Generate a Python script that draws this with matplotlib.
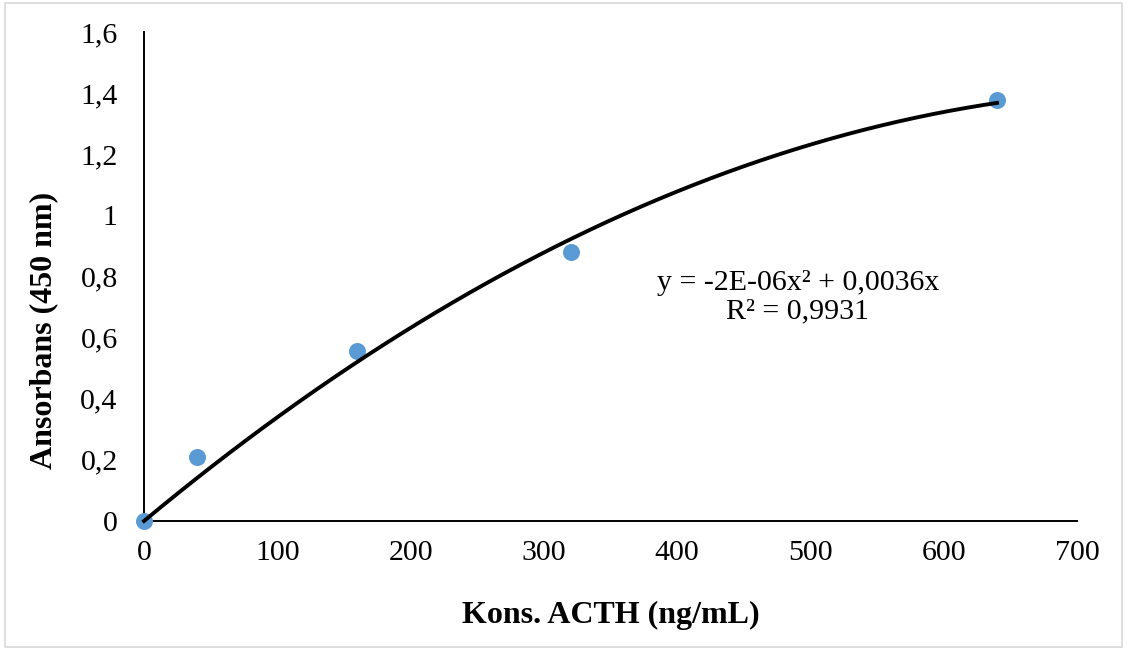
import numpy as np
import matplotlib.pyplot as plt
from matplotlib.patches import Rectangle

# data
kons = [0, 40, 160, 320, 640]
absorbans = [0.0, 0.21, 0.555, 0.88, 1.376]
x_ticks = [0, 100, 200, 300, 400, 500, 600, 700]
y_ticks = [0, 0.2, 0.4, 0.6, 0.8, 1.0, 1.2, 1.4, 1.6]
y_labels = ['0', '0,2', '0,4', '0,6', '0,8', '1', '1,2', '1,4', '1,6']
eq_text = 'y = -2E-06x² + 0,0036x\nR² = 0,9931'

plt.rcParams['font.family'] = ['Liberation Serif', 'DejaVu Serif']

fig = plt.figure(figsize=(11.27, 6.5), dpi=100)
ax = fig.add_axes([0.1278, 0.1985, 0.8278, 0.7523])

# polynomial trendline order 2, intercept 0 (like excel)
x = np.array(kons, dtype=float)
y = np.array(absorbans)
A = np.vstack([x**2, x]).T
coef = np.linalg.lstsq(A, y, rcond=None)[0]
xs = np.linspace(0, 640, 200)
ax.plot(xs, coef[0]*xs**2 + coef[1]*xs, color='black', lw=2.8, zorder=4, clip_on=False)

ax.scatter(kons, absorbans, s=150, color='#5B9BD5', zorder=3, clip_on=False, linewidths=0)

ax.set_xlim(0, 700)
ax.set_ylim(0, 1.6)
ax.set_xticks(x_ticks)
ax.set_yticks(y_ticks)
ax.set_yticklabels(y_labels)
ax.tick_params(length=0, labelsize=21.5)
ax.tick_params(axis='x', pad=14)
ax.tick_params(axis='y', pad=19)
for s in ['top', 'right']:
    ax.spines[s].set_visible(False)
for s in ['left', 'bottom']:
    ax.spines[s].set_linewidth(1.4)

ax.set_xlabel('Kons. ACTH (ng/mL)', fontsize=23, fontweight='bold', labelpad=25)
fig.text(44/1127, 1 - 330/650, 'Ansorbans (450 nm)', fontsize=23, fontweight='bold',
         rotation=90, ha='center', va='center')

ax.text(490.5, 0.733, eq_text, fontsize=21.5, ha='center', va='center', linespacing=1.1)

fig.patches.append(Rectangle((0.004, 0.004), 0.992, 0.992, transform=fig.transFigure,
                             fill=False, edgecolor='#D9D9D9', lw=1.2))

fig.savefig('out.png', dpi=100)
